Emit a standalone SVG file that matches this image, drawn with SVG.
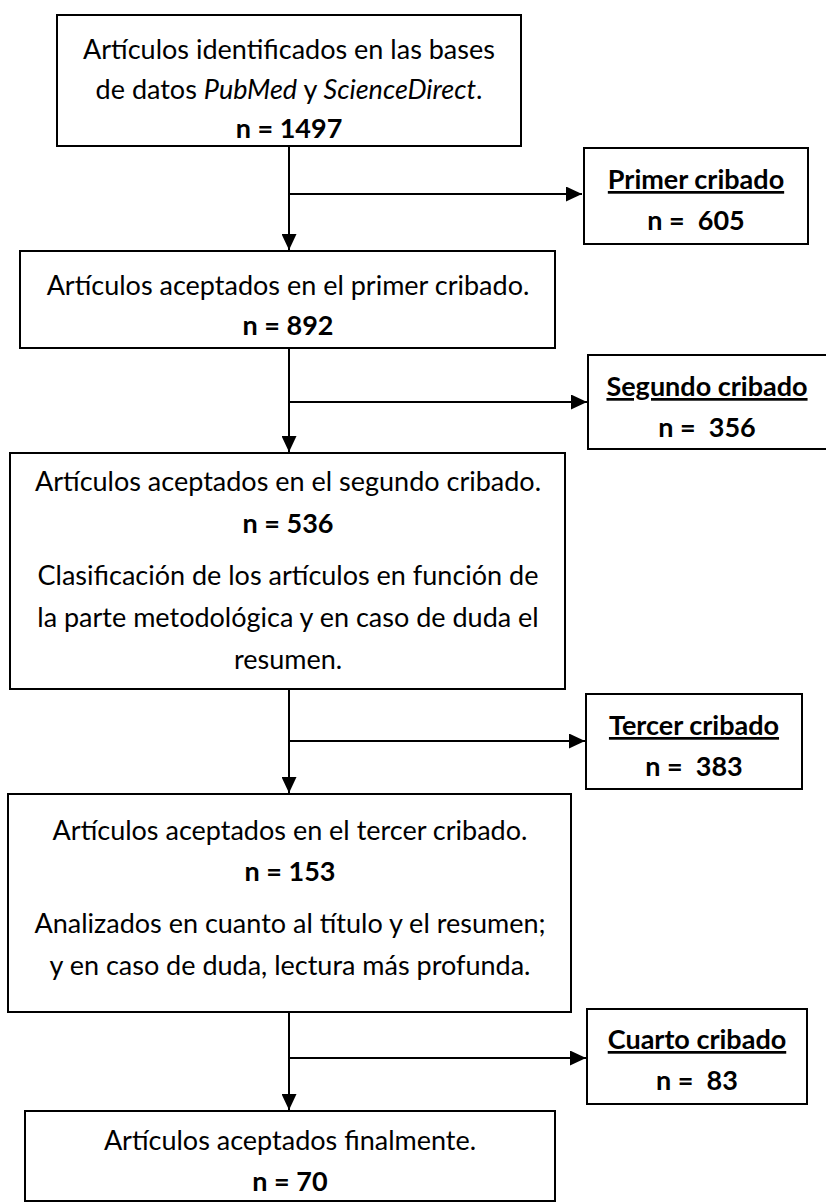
<svg xmlns="http://www.w3.org/2000/svg" width="826" height="1202" viewBox="0 0 826 1202">
<style>
.box{fill:#fff;stroke:#000;stroke-width:2}
.t{font-family:Lato,"Open Sans","Liberation Sans",sans-serif;font-size:27px;fill:#000;text-anchor:middle}
.b{font-weight:bold}
.u{text-decoration:underline}
.c{fill:none;stroke:#000;stroke-width:2}
</style>
<defs>
<marker id="ah" markerUnits="userSpaceOnUse" markerWidth="17" markerHeight="15" refX="16" refY="7.5" orient="auto">
<path d="M0,0 L16,7.5 L0,15 z" fill="#000"/>
</marker>
</defs>
<rect width="826" height="1202" fill="#fff"/>
<g id="connectors">
<path class="c" d="M289,146 V250" marker-end="url(#ah)"/>
<path class="c" d="M289,194 H582" marker-end="url(#ah)"/>
<path class="c" d="M289,348 V452" marker-end="url(#ah)"/>
<path class="c" d="M289,402 H587" marker-end="url(#ah)"/>
<path class="c" d="M289,689 V793" marker-end="url(#ah)"/>
<path class="c" d="M289,741 H585" marker-end="url(#ah)"/>
<path class="c" d="M289,1012 V1110" marker-end="url(#ah)"/>
<path class="c" d="M289,1058 H586" marker-end="url(#ah)"/>
</g>
<g id="n1">
<rect class="box" x="57" y="15" width="464" height="131"/>
<text class="t" x="289" y="59">Artículos identificados en las bases</text>
<text class="t" x="289" y="99">de datos <tspan font-style="italic">PubMed</tspan> y <tspan font-style="italic">ScienceDirect</tspan>.</text>
<text class="t b" x="289" y="138">n = 1497</text>
</g>
<g id="s1">
<rect class="box" x="584" y="148" width="224" height="96"/>
<text class="t b u" x="696" y="189">Primer cribado</text>
<text class="t b" x="696" y="230" xml:space="preserve">n =  605</text>
</g>
<g id="n2">
<rect class="box" x="20" y="251" width="535" height="97"/>
<text class="t" x="288" y="295">Artículos aceptados en el primer cribado.</text>
<text class="t b" x="288" y="335">n = 892</text>
</g>
<g id="s2">
<rect class="box" x="588" y="355" width="240" height="94"/>
<text class="t b u" x="707" y="396">Segundo cribado</text>
<text class="t b" x="707" y="437" xml:space="preserve">n =  356</text>
</g>
<g id="n3">
<rect class="box" x="10" y="453" width="555" height="236"/>
<text class="t" x="288" y="491">Artículos aceptados en el segundo cribado.</text>
<text class="t b" x="288" y="533">n = 536</text>
<text class="t" x="288" y="585">Clasificación de los artículos en función de</text>
<text class="t" x="288" y="627">la parte metodológica y en caso de duda el</text>
<text class="t" x="288" y="669">resumen.</text>
</g>
<g id="s3">
<rect class="box" x="586" y="694" width="216" height="95"/>
<text class="t b u" x="694" y="735">Tercer cribado</text>
<text class="t b" x="694" y="776" xml:space="preserve">n =  383</text>
</g>
<g id="n4">
<rect class="box" x="8" y="794" width="563" height="218"/>
<text class="t" x="290" y="840">Artículos aceptados en el tercer cribado.</text>
<text class="t b" x="290" y="881">n = 153</text>
<text class="t" x="290" y="933">Analizados en cuanto al título y el resumen;</text>
<text class="t" x="290" y="975">y en caso de duda, lectura más profunda.</text>
</g>
<g id="s4">
<rect class="box" x="587" y="1009" width="220" height="95"/>
<text class="t b u" x="697" y="1049">Cuarto cribado</text>
<text class="t b" x="697" y="1090" xml:space="preserve">n =  83</text>
</g>
<g id="n5">
<rect class="box" x="25" y="1111" width="530" height="90"/>
<text class="t" x="290" y="1150">Artículos aceptados finalmente.</text>
<text class="t b" x="290" y="1191">n = 70</text>
</g>
</svg>
